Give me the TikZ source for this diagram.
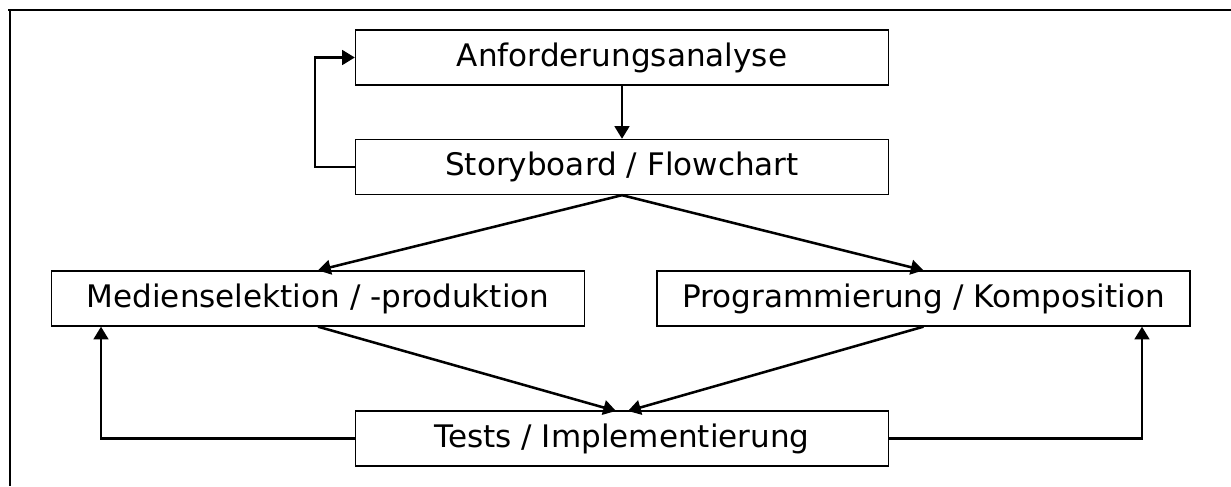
\documentclass[tikz,border=0pt]{standalone}
\usepackage{fontspec}
\setmainfont{DejaVu Sans}
\usetikzlibrary{arrows.meta}
\begin{document}
\begin{tikzpicture}[x=0.75pt,y=-0.75pt,
  box/.style={draw,line width=1pt,rectangle,inner sep=0pt,minimum width=399.75pt,minimum height=41.25pt,font=\fontsize{23.3pt}{28pt}\selectfont},
  arr/.style={line width=1.9pt,-{Triangle[length=9.5pt,width=11pt]}},
  frame/.style={line width=1.6pt}]
\useasboundingbox (0,0) rectangle (1231,486);
\coordinate (f0) at (10,10);
\coordinate (f1) at (1231,10);
\coordinate (f2) at (10,486);
\draw[frame] (f1) -- (8,10);
\draw[frame] (f0) -- (f2);
\node[box] (anf) at (622,57.5) {Anforderungsanalyse};
\node[box] (story) at (622,167) {Storyboard / Flowchart};
\node[box] (med) at (318,298.5) {Medienselektion / -produktion};
\node[box] (prog) at (923.5,298.5) {Programmierung / Komposition};
\node[box] (tests) at (622,438.5) {Tests / Implementierung};
\coordinate (lx) at (315,0);
\coordinate (lbx) at (101,0);
\coordinate (rbx) at (1142,0);
\coordinate (t1) at (616,411);
\coordinate (t2) at (628,411);
\draw[arr] (anf) -- (story);
\draw[arr] (story.west) -- (story.west -| lx) |- (anf.west);
\draw[arr] (story.south) -- (med.north);
\draw[arr] (story.south) -- (prog.north);
\draw[arr] (med.south) -- (t1);
\draw[arr] (prog.south) -- (t2);
\draw[arr] (tests.west) -- (tests.west -| lbx) -- (lbx |- med.south);
\draw[arr] (tests.east) -- (tests.east -| rbx) -- (rbx |- prog.south);
\end{tikzpicture}
\end{document}
